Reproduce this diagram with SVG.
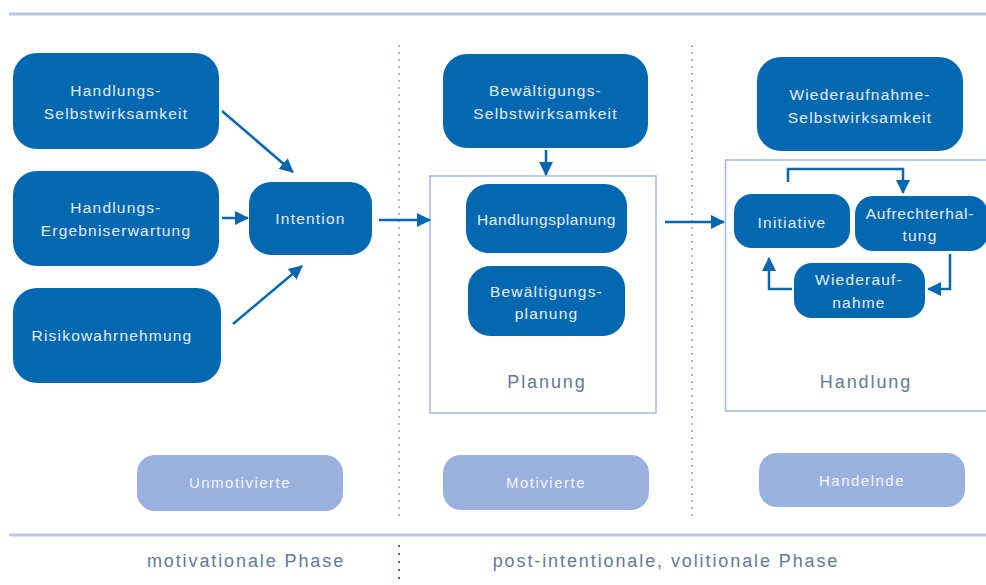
<svg xmlns="http://www.w3.org/2000/svg" width="986" height="585" viewBox="0 0 986 585">
<defs>
<style>
.n{fill:#0468B1}
.t{font-family:"Liberation Sans",Arial,sans-serif;font-size:15.5px;fill:#E4ECF7;text-anchor:middle;letter-spacing:1.2px}
.p{fill:#9AB0DF}
.pt{font-family:"Liberation Sans",Arial,sans-serif;font-size:15px;fill:#F2F5FB;text-anchor:middle;letter-spacing:1.5px}
.g{font-family:"Liberation Sans",Arial,sans-serif;font-size:18px;fill:#667892;text-anchor:middle;letter-spacing:1.9px}
.c{fill:none;stroke:#0468B1;stroke-width:2.5}
.fr{fill:#fff;stroke:#A6B8E4;stroke-width:1.5}
.d{stroke:#A8B6E0;stroke-width:2;stroke-dasharray:2 5}
</style>
<marker id="ah2" markerWidth="14" markerHeight="14" refX="13" refY="7" orient="auto" markerUnits="userSpaceOnUse" viewBox="0 0 14 14">
<path d="M0,0 L14,7 L0,14 z" fill="#0468B1"/>
</marker>
</defs>
<rect width="986" height="585" fill="#fff"/>
<line x1="9" y1="14" x2="986" y2="14" stroke="#BAC6E8" stroke-width="3"/>
<line x1="9" y1="535" x2="986" y2="535" stroke="#BAC6E8" stroke-width="3"/>
<line class="d" x1="399" y1="45" x2="399" y2="518"/>
<line class="d" x1="692" y1="45" x2="692" y2="518"/>
<line x1="399" y1="545" x2="399" y2="582" stroke="#2B6CA8" stroke-width="2" stroke-dasharray="2 6"/>

<g id="frame-planung">
<rect class="fr" x="430" y="176" width="226" height="237"/>
<text class="g" x="547" y="388">Planung</text>
</g>
<g id="frame-handlung">
<rect class="fr" x="725.5" y="160" width="265" height="251"/>
<text class="g" x="866" y="388">Handlung</text>
</g>

<g id="hse">
<rect class="n" x="13" y="53" width="206" height="96" rx="24"/>
<text class="t" x="116" y="96">Handlungs-</text>
<text class="t" x="116" y="119">Selbstwirksamkeit</text>
</g>
<g id="hee">
<rect class="n" x="13" y="171" width="206" height="95" rx="24"/>
<text class="t" x="116" y="213">Handlungs-</text>
<text class="t" x="116" y="236">Ergebniserwartung</text>
</g>
<g id="risk">
<rect class="n" x="13" y="288" width="208" height="95" rx="24"/>
<text class="t" x="112" y="341">Risikowahrnehmung</text>
</g>
<g id="intention">
<rect class="n" x="249" y="182" width="123" height="73" rx="22"/>
<text class="t" x="310.5" y="224">Intention</text>
</g>
<g id="bse">
<rect class="n" x="443" y="54" width="205" height="94" rx="24"/>
<text class="t" x="545.5" y="96">Bewältigungs-</text>
<text class="t" x="545.5" y="119">Selbstwirksamkeit</text>
</g>
<g id="handlungsplanung">
<rect class="n" x="466" y="184" width="161" height="69" rx="22"/>
<text class="t" x="546.5" y="225" style="letter-spacing:0.6px">Handlungsplanung</text>
</g>
<g id="bewplanung">
<rect class="n" x="468" y="266" width="157" height="70" rx="22"/>
<text class="t" x="546.5" y="297">Bewältigungs-</text>
<text class="t" x="546.5" y="319">planung</text>
</g>
<g id="wse">
<rect class="n" x="757" y="57" width="206" height="94" rx="24"/>
<text class="t" x="860" y="100">Wiederaufnahme-</text>
<text class="t" x="860" y="123">Selbstwirksamkeit</text>
</g>
<g id="initiative">
<rect class="n" x="734" y="194" width="116" height="54" rx="18"/>
<text class="t" x="792" y="228">Initiative</text>
</g>
<g id="aufrecht">
<rect class="n" x="855" y="196" width="133" height="55" rx="18"/>
<text class="t" x="920" y="219" style="letter-spacing:0.8px">Aufrechterhal-</text>
<text class="t" x="920" y="241">tung</text>
</g>
<g id="wiederaufnahme">
<rect class="n" x="794" y="263" width="131" height="55" rx="18"/>
<text class="t" x="859" y="285">Wiederauf-</text>
<text class="t" x="859" y="308">nahme</text>
</g>

<g id="unmotivierte">
<rect class="p" x="137" y="455" width="206" height="56" rx="18"/>
<text class="pt" x="240" y="488">Unmotivierte</text>
</g>
<g id="motivierte">
<rect class="p" x="443" y="455" width="206" height="55" rx="18"/>
<text class="pt" x="546" y="488">Motivierte</text>
</g>
<g id="handelnde">
<rect class="p" x="759" y="453" width="206" height="54" rx="18"/>
<text class="pt" x="862" y="486">Handelnde</text>
</g>

<text class="g" x="246" y="567">motivationale Phase</text>
<text class="g" x="666" y="567">post-intentionale, volitionale Phase</text>

<g id="connectors">
<line class="c" x1="222" y1="111" x2="293" y2="172" marker-end="url(#ah2)"/>
<line class="c" x1="222" y1="218" x2="248" y2="218" marker-end="url(#ah2)"/>
<line class="c" x1="233" y1="324" x2="302" y2="266" marker-end="url(#ah2)"/>
<line class="c" x1="379" y1="220" x2="430" y2="220" marker-end="url(#ah2)"/>
<line class="c" x1="546" y1="150" x2="546" y2="175" marker-end="url(#ah2)"/>
<line class="c" x1="665" y1="222" x2="724" y2="222" marker-end="url(#ah2)"/>
<polyline class="c" points="788,182 788,169 903,169 903,193" marker-end="url(#ah2)"/>
<polyline class="c" points="950,254 950,289 928,289" marker-end="url(#ah2)"/>
<polyline class="c" points="792,289 769,289 769,258" marker-end="url(#ah2)"/>
</g>
</svg>
